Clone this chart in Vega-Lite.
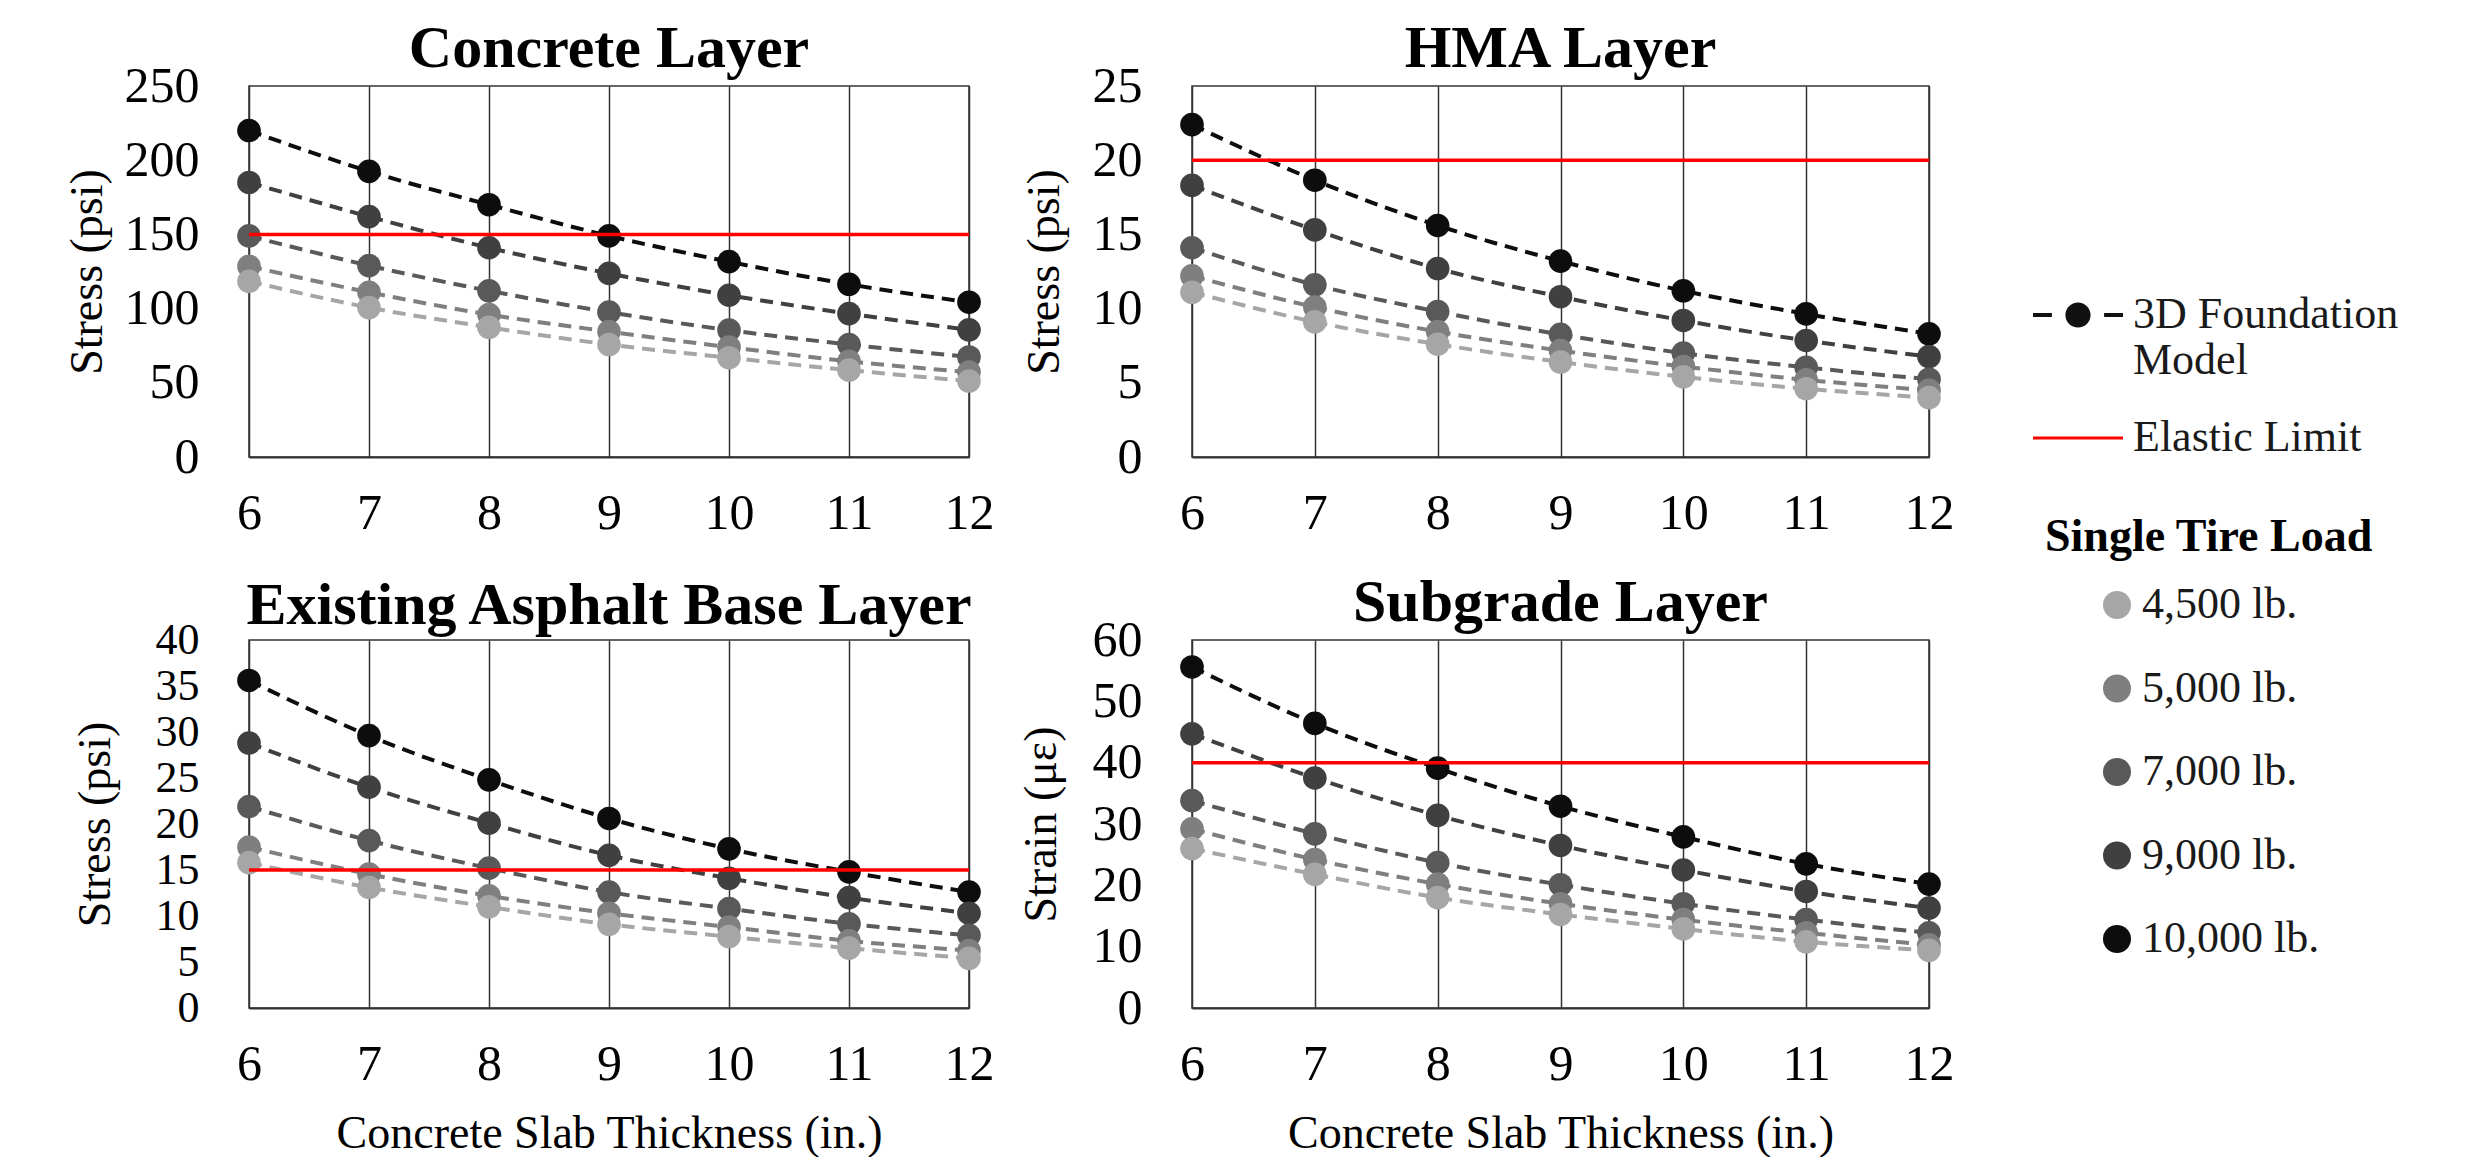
{
  "$schema": "https://vega.github.io/schema/vega-lite/v6.json",
  "padding": {"left": 63, "top": 18, "right": 0, "bottom": 0},
  "background": "white",
  "datasets": {
    "pts": [
      {"layer": "Concrete", "load": "10,000 lb.", "t": 6, "v": 220},
      {"layer": "Concrete", "load": "10,000 lb.", "t": 7, "v": 192.5},
      {"layer": "Concrete", "load": "10,000 lb.", "t": 8, "v": 170},
      {"layer": "Concrete", "load": "10,000 lb.", "t": 9, "v": 149},
      {"layer": "Concrete", "load": "10,000 lb.", "t": 10, "v": 131.6},
      {"layer": "Concrete", "load": "10,000 lb.", "t": 11, "v": 116.4},
      {"layer": "Concrete", "load": "10,000 lb.", "t": 12, "v": 104.3},
      {"layer": "Concrete", "load": "9,000 lb.", "t": 6, "v": 185},
      {"layer": "Concrete", "load": "9,000 lb.", "t": 7, "v": 162},
      {"layer": "Concrete", "load": "9,000 lb.", "t": 8, "v": 141},
      {"layer": "Concrete", "load": "9,000 lb.", "t": 9, "v": 123.7},
      {"layer": "Concrete", "load": "9,000 lb.", "t": 10, "v": 109},
      {"layer": "Concrete", "load": "9,000 lb.", "t": 11, "v": 96.6},
      {"layer": "Concrete", "load": "9,000 lb.", "t": 12, "v": 85.7},
      {"layer": "Concrete", "load": "7,000 lb.", "t": 6, "v": 149},
      {"layer": "Concrete", "load": "7,000 lb.", "t": 7, "v": 129},
      {"layer": "Concrete", "load": "7,000 lb.", "t": 8, "v": 112},
      {"layer": "Concrete", "load": "7,000 lb.", "t": 9, "v": 97.6},
      {"layer": "Concrete", "load": "7,000 lb.", "t": 10, "v": 85.5},
      {"layer": "Concrete", "load": "7,000 lb.", "t": 11, "v": 75.8},
      {"layer": "Concrete", "load": "7,000 lb.", "t": 12, "v": 67.4},
      {"layer": "Concrete", "load": "5,000 lb.", "t": 6, "v": 128.5},
      {"layer": "Concrete", "load": "5,000 lb.", "t": 7, "v": 111},
      {"layer": "Concrete", "load": "5,000 lb.", "t": 8, "v": 96},
      {"layer": "Concrete", "load": "5,000 lb.", "t": 9, "v": 84.5},
      {"layer": "Concrete", "load": "5,000 lb.", "t": 10, "v": 74},
      {"layer": "Concrete", "load": "5,000 lb.", "t": 11, "v": 64.5},
      {"layer": "Concrete", "load": "5,000 lb.", "t": 12, "v": 57.2},
      {"layer": "Concrete", "load": "4,500 lb.", "t": 6, "v": 118.4},
      {"layer": "Concrete", "load": "4,500 lb.", "t": 7, "v": 100.7},
      {"layer": "Concrete", "load": "4,500 lb.", "t": 8, "v": 87.4},
      {"layer": "Concrete", "load": "4,500 lb.", "t": 9, "v": 75.8},
      {"layer": "Concrete", "load": "4,500 lb.", "t": 10, "v": 66.9},
      {"layer": "Concrete", "load": "4,500 lb.", "t": 11, "v": 58.5},
      {"layer": "Concrete", "load": "4,500 lb.", "t": 12, "v": 51.2},
      {"layer": "HMA", "load": "10,000 lb.", "t": 6, "v": 22.4},
      {"layer": "HMA", "load": "10,000 lb.", "t": 7, "v": 18.65},
      {"layer": "HMA", "load": "10,000 lb.", "t": 8, "v": 15.6},
      {"layer": "HMA", "load": "10,000 lb.", "t": 9, "v": 13.2},
      {"layer": "HMA", "load": "10,000 lb.", "t": 10, "v": 11.2},
      {"layer": "HMA", "load": "10,000 lb.", "t": 11, "v": 9.64},
      {"layer": "HMA", "load": "10,000 lb.", "t": 12, "v": 8.3},
      {"layer": "HMA", "load": "9,000 lb.", "t": 6, "v": 18.3},
      {"layer": "HMA", "load": "9,000 lb.", "t": 7, "v": 15.3},
      {"layer": "HMA", "load": "9,000 lb.", "t": 8, "v": 12.7},
      {"layer": "HMA", "load": "9,000 lb.", "t": 9, "v": 10.8},
      {"layer": "HMA", "load": "9,000 lb.", "t": 10, "v": 9.2},
      {"layer": "HMA", "load": "9,000 lb.", "t": 11, "v": 7.85},
      {"layer": "HMA", "load": "9,000 lb.", "t": 12, "v": 6.76},
      {"layer": "HMA", "load": "7,000 lb.", "t": 6, "v": 14.1},
      {"layer": "HMA", "load": "7,000 lb.", "t": 7, "v": 11.6},
      {"layer": "HMA", "load": "7,000 lb.", "t": 8, "v": 9.8},
      {"layer": "HMA", "load": "7,000 lb.", "t": 9, "v": 8.26},
      {"layer": "HMA", "load": "7,000 lb.", "t": 10, "v": 7.0},
      {"layer": "HMA", "load": "7,000 lb.", "t": 11, "v": 6.04},
      {"layer": "HMA", "load": "7,000 lb.", "t": 12, "v": 5.24},
      {"layer": "HMA", "load": "5,000 lb.", "t": 6, "v": 12.2},
      {"layer": "HMA", "load": "5,000 lb.", "t": 7, "v": 10.1},
      {"layer": "HMA", "load": "5,000 lb.", "t": 8, "v": 8.45},
      {"layer": "HMA", "load": "5,000 lb.", "t": 9, "v": 7.17},
      {"layer": "HMA", "load": "5,000 lb.", "t": 10, "v": 6.1},
      {"layer": "HMA", "load": "5,000 lb.", "t": 11, "v": 5.2},
      {"layer": "HMA", "load": "5,000 lb.", "t": 12, "v": 4.5},
      {"layer": "HMA", "load": "4,500 lb.", "t": 6, "v": 11.1},
      {"layer": "HMA", "load": "4,500 lb.", "t": 7, "v": 9.1},
      {"layer": "HMA", "load": "4,500 lb.", "t": 8, "v": 7.6},
      {"layer": "HMA", "load": "4,500 lb.", "t": 9, "v": 6.4},
      {"layer": "HMA", "load": "4,500 lb.", "t": 10, "v": 5.4},
      {"layer": "HMA", "load": "4,500 lb.", "t": 11, "v": 4.6},
      {"layer": "HMA", "load": "4,500 lb.", "t": 12, "v": 4.0},
      {"layer": "Asphalt", "load": "10,000 lb.", "t": 6, "v": 35.6},
      {"layer": "Asphalt", "load": "10,000 lb.", "t": 7, "v": 29.6},
      {"layer": "Asphalt", "load": "10,000 lb.", "t": 8, "v": 24.8},
      {"layer": "Asphalt", "load": "10,000 lb.", "t": 9, "v": 20.6},
      {"layer": "Asphalt", "load": "10,000 lb.", "t": 10, "v": 17.3},
      {"layer": "Asphalt", "load": "10,000 lb.", "t": 11, "v": 14.8},
      {"layer": "Asphalt", "load": "10,000 lb.", "t": 12, "v": 12.6},
      {"layer": "Asphalt", "load": "9,000 lb.", "t": 6, "v": 28.8},
      {"layer": "Asphalt", "load": "9,000 lb.", "t": 7, "v": 24.0},
      {"layer": "Asphalt", "load": "9,000 lb.", "t": 8, "v": 20.1},
      {"layer": "Asphalt", "load": "9,000 lb.", "t": 9, "v": 16.6},
      {"layer": "Asphalt", "load": "9,000 lb.", "t": 10, "v": 14.1},
      {"layer": "Asphalt", "load": "9,000 lb.", "t": 11, "v": 12.0},
      {"layer": "Asphalt", "load": "9,000 lb.", "t": 12, "v": 10.3},
      {"layer": "Asphalt", "load": "7,000 lb.", "t": 6, "v": 21.9},
      {"layer": "Asphalt", "load": "7,000 lb.", "t": 7, "v": 18.2},
      {"layer": "Asphalt", "load": "7,000 lb.", "t": 8, "v": 15.2},
      {"layer": "Asphalt", "load": "7,000 lb.", "t": 9, "v": 12.6},
      {"layer": "Asphalt", "load": "7,000 lb.", "t": 10, "v": 10.8},
      {"layer": "Asphalt", "load": "7,000 lb.", "t": 11, "v": 9.15},
      {"layer": "Asphalt", "load": "7,000 lb.", "t": 12, "v": 7.9},
      {"layer": "Asphalt", "load": "5,000 lb.", "t": 6, "v": 17.5},
      {"layer": "Asphalt", "load": "5,000 lb.", "t": 7, "v": 14.55},
      {"layer": "Asphalt", "load": "5,000 lb.", "t": 8, "v": 12.2},
      {"layer": "Asphalt", "load": "5,000 lb.", "t": 9, "v": 10.3},
      {"layer": "Asphalt", "load": "5,000 lb.", "t": 10, "v": 8.8},
      {"layer": "Asphalt", "load": "5,000 lb.", "t": 11, "v": 7.3},
      {"layer": "Asphalt", "load": "5,000 lb.", "t": 12, "v": 6.25},
      {"layer": "Asphalt", "load": "4,500 lb.", "t": 6, "v": 15.8},
      {"layer": "Asphalt", "load": "4,500 lb.", "t": 7, "v": 13.1},
      {"layer": "Asphalt", "load": "4,500 lb.", "t": 8, "v": 11.0},
      {"layer": "Asphalt", "load": "4,500 lb.", "t": 9, "v": 9.1},
      {"layer": "Asphalt", "load": "4,500 lb.", "t": 10, "v": 7.75},
      {"layer": "Asphalt", "load": "4,500 lb.", "t": 11, "v": 6.5},
      {"layer": "Asphalt", "load": "4,500 lb.", "t": 12, "v": 5.4},
      {"layer": "Subgrade", "load": "10,000 lb.", "t": 6, "v": 55.6},
      {"layer": "Subgrade", "load": "10,000 lb.", "t": 7, "v": 46.4},
      {"layer": "Subgrade", "load": "10,000 lb.", "t": 8, "v": 39.1},
      {"layer": "Subgrade", "load": "10,000 lb.", "t": 9, "v": 32.9},
      {"layer": "Subgrade", "load": "10,000 lb.", "t": 10, "v": 27.9},
      {"layer": "Subgrade", "load": "10,000 lb.", "t": 11, "v": 23.5},
      {"layer": "Subgrade", "load": "10,000 lb.", "t": 12, "v": 20.2},
      {"layer": "Subgrade", "load": "9,000 lb.", "t": 6, "v": 44.7},
      {"layer": "Subgrade", "load": "9,000 lb.", "t": 7, "v": 37.5},
      {"layer": "Subgrade", "load": "9,000 lb.", "t": 8, "v": 31.4},
      {"layer": "Subgrade", "load": "9,000 lb.", "t": 9, "v": 26.5},
      {"layer": "Subgrade", "load": "9,000 lb.", "t": 10, "v": 22.5},
      {"layer": "Subgrade", "load": "9,000 lb.", "t": 11, "v": 19.0},
      {"layer": "Subgrade", "load": "9,000 lb.", "t": 12, "v": 16.3},
      {"layer": "Subgrade", "load": "7,000 lb.", "t": 6, "v": 33.8},
      {"layer": "Subgrade", "load": "7,000 lb.", "t": 7, "v": 28.4},
      {"layer": "Subgrade", "load": "7,000 lb.", "t": 8, "v": 23.7},
      {"layer": "Subgrade", "load": "7,000 lb.", "t": 9, "v": 20.1},
      {"layer": "Subgrade", "load": "7,000 lb.", "t": 10, "v": 17.0},
      {"layer": "Subgrade", "load": "7,000 lb.", "t": 11, "v": 14.4},
      {"layer": "Subgrade", "load": "7,000 lb.", "t": 12, "v": 12.25},
      {"layer": "Subgrade", "load": "5,000 lb.", "t": 6, "v": 29.2},
      {"layer": "Subgrade", "load": "5,000 lb.", "t": 7, "v": 24.2},
      {"layer": "Subgrade", "load": "5,000 lb.", "t": 8, "v": 20.2},
      {"layer": "Subgrade", "load": "5,000 lb.", "t": 9, "v": 17.0},
      {"layer": "Subgrade", "load": "5,000 lb.", "t": 10, "v": 14.4},
      {"layer": "Subgrade", "load": "5,000 lb.", "t": 11, "v": 12.25},
      {"layer": "Subgrade", "load": "5,000 lb.", "t": 12, "v": 10.3},
      {"layer": "Subgrade", "load": "4,500 lb.", "t": 6, "v": 26.0},
      {"layer": "Subgrade", "load": "4,500 lb.", "t": 7, "v": 21.8},
      {"layer": "Subgrade", "load": "4,500 lb.", "t": 8, "v": 18.0},
      {"layer": "Subgrade", "load": "4,500 lb.", "t": 9, "v": 15.25},
      {"layer": "Subgrade", "load": "4,500 lb.", "t": 10, "v": 12.9},
      {"layer": "Subgrade", "load": "4,500 lb.", "t": 11, "v": 10.8},
      {"layer": "Subgrade", "load": "4,500 lb.", "t": 12, "v": 9.4}
    ],
    "limits": [
      {"layer": "Concrete", "limit": 150},
      {"layer": "HMA", "limit": 20},
      {"layer": "Asphalt", "limit": 15},
      {"layer": "Subgrade", "limit": 40}
    ],
    "legendItems": [
      {"item": "3D Foundation Model"},
      {"item": "Elastic Limit"}
    ]
  },
  "columns": 2,
  "align": "each",
  "spacing": {"row": 33, "column": 22},
  "concat": [
    {
      "width": 720, "height": 371,
      "title": {"text": "Concrete Layer"},
      "layer": [
        {
          "data": {"name": "legendItems"},
          "transform": [{"filter": "false"}],
          "mark": {"type": "point", "filled": true},
          "encoding": {
            "shape": {"field": "item", "type": "nominal",
              "scale": {"domain": ["3D Foundation Model", "Elastic Limit"],
                "range": ["M-1,-0.045H-0.58V0.045H-1Z M0.58,-0.045H1V0.045H0.58Z M0.28,0A0.28,0.28,0,1,1,-0.28,0A0.28,0.28,0,1,1,0.28,0Z", "M-1,-0.033H1V0.033H-1Z"]},
              "legend": {"title": null, "orient": "none", "legendX": 1783, "legendY": 183, "symbolSize": 8100, "labelOffset": 9, "rowPadding": 9, "symbolOpacity": 1,
                "labelExpr": "datum.label == '3D Foundation Model' ? ['3D Foundation', 'Model'] : datum.label"}},
            "fill": {"field": "item", "type": "nominal",
              "scale": {"domain": ["3D Foundation Model", "Elastic Limit"], "range": ["#111111", "#ff0000"]},
              "legend": {"title": null, "orient": "none", "legendX": 1783, "legendY": 183, "symbolSize": 8100, "labelOffset": 9, "rowPadding": 9, "symbolOpacity": 1,
                "labelExpr": "datum.label == '3D Foundation Model' ? ['3D Foundation', 'Model'] : datum.label"}}
          }
        },
        {
          "data": {"name": "pts"},
          "transform": [{"filter": "datum.layer == 'Concrete'"}],
          "mark": {"type": "line", "strokeDash": [13, 8], "strokeWidth": 4, "interpolate": "monotone"},
          "encoding": {
            "x": {"field": "t", "type": "quantitative", "scale": {"domain": [6, 12], "nice": false, "zero": false}, "axis": {"values": [6, 7, 8, 9, 10, 11, 12], "format": "d", "title": null}},
            "y": {"field": "v", "type": "quantitative", "scale": {"domain": [0, 250], "nice": false}, "axis": {"values": [0, 50, 100, 150, 200, 250], "title": "Stress (psi)", "minExtent": 130, "maxExtent": 130}},
            "stroke": {"field": "load", "type": "nominal",
              "scale": {"domain": ["10,000 lb.", "9,000 lb.", "7,000 lb.", "5,000 lb.", "4,500 lb."], "range": ["#0d0d0d", "#404040", "#595959", "#7f7f7f", "#a6a6a6"]},
              "legend": null}
          }
        },
        {
          "data": {"name": "pts"},
          "transform": [{"filter": "datum.layer == 'Concrete'"}],
          "mark": {"type": "point", "filled": true, "size": 560, "opacity": 1},
          "encoding": {
            "x": {"field": "t", "type": "quantitative"},
            "y": {"field": "v", "type": "quantitative"},
            "color": {"field": "load", "type": "nominal",
              "scale": {"domain": ["4,500 lb.", "5,000 lb.", "7,000 lb.", "9,000 lb.", "10,000 lb."], "range": ["#a6a6a6", "#7f7f7f", "#595959", "#404040", "#0d0d0d"]},
              "legend": {"title": "Single Tire Load", "orient": "none", "legendX": 1796, "legendY": 429, "symbolType": "circle", "symbolSize": 784, "symbolOffset": 50, "labelOffset": 3, "rowPadding": 39.5, "titlePadding": 22, "symbolOpacity": 1}}
          }
        },
        {
          "data": {"name": "limits"},
          "transform": [{"filter": "datum.layer == 'Concrete'"}],
          "mark": {"type": "rule", "color": "#ff0000", "strokeWidth": 3.5},
          "encoding": {"y": {"field": "limit", "type": "quantitative"}}
        }
      ]
    },
    {
      "width": 737, "height": 371,
      "title": {"text": "HMA Layer"},
      "layer": [
        {
          "data": {"name": "pts"},
          "transform": [{"filter": "datum.layer == 'HMA'"}],
          "mark": {"type": "line", "strokeDash": [13, 8], "strokeWidth": 4, "interpolate": "monotone"},
          "encoding": {
            "x": {"field": "t", "type": "quantitative", "scale": {"domain": [6, 12], "nice": false, "zero": false}, "axis": {"values": [6, 7, 8, 9, 10, 11, 12], "format": "d", "title": null}},
            "y": {"field": "v", "type": "quantitative", "scale": {"domain": [0, 25], "nice": false}, "axis": {"values": [0, 5, 10, 15, 20, 25], "title": "Stress (psi)", "minExtent": 116, "maxExtent": 116}},
            "stroke": {"field": "load", "type": "nominal", "legend": null}
          }
        },
        {
          "data": {"name": "pts"},
          "transform": [{"filter": "datum.layer == 'HMA'"}],
          "mark": {"type": "point", "filled": true, "size": 560, "opacity": 1},
          "encoding": {
            "x": {"field": "t", "type": "quantitative"},
            "y": {"field": "v", "type": "quantitative"},
            "color": {"field": "load", "type": "nominal"}
          }
        },
        {
          "data": {"name": "limits"},
          "transform": [{"filter": "datum.layer == 'HMA'"}],
          "mark": {"type": "rule", "color": "#ff0000", "strokeWidth": 3.5},
          "encoding": {"y": {"field": "limit", "type": "quantitative"}}
        }
      ]
    },
    {
      "width": 720, "height": 368,
      "title": {"text": "Existing Asphalt Base Layer"},
      "layer": [
        {
          "data": {"name": "pts"},
          "transform": [{"filter": "datum.layer == 'Asphalt'"}],
          "mark": {"type": "line", "strokeDash": [13, 8], "strokeWidth": 4, "interpolate": "monotone"},
          "encoding": {
            "x": {"field": "t", "type": "quantitative", "scale": {"domain": [6, 12], "nice": false, "zero": false}, "axis": {"values": [6, 7, 8, 9, 10, 11, 12], "format": "d", "title": "Concrete Slab Thickness (in.)"}},
            "y": {"field": "v", "type": "quantitative", "scale": {"domain": [0, 40], "nice": false}, "axis": {"values": [0, 5, 10, 15, 20, 25, 30, 35, 40], "title": "Stress (psi)", "labelFontSize": 44, "minExtent": 122, "maxExtent": 122}},
            "stroke": {"field": "load", "type": "nominal", "legend": null}
          }
        },
        {
          "data": {"name": "pts"},
          "transform": [{"filter": "datum.layer == 'Asphalt'"}],
          "mark": {"type": "point", "filled": true, "size": 560, "opacity": 1},
          "encoding": {
            "x": {"field": "t", "type": "quantitative"},
            "y": {"field": "v", "type": "quantitative"},
            "color": {"field": "load", "type": "nominal"}
          }
        },
        {
          "data": {"name": "limits"},
          "transform": [{"filter": "datum.layer == 'Asphalt'"}],
          "mark": {"type": "rule", "color": "#ff0000", "strokeWidth": 3.5},
          "encoding": {"y": {"field": "limit", "type": "quantitative"}}
        }
      ]
    },
    {
      "width": 737, "height": 368,
      "title": {"text": "Subgrade Layer"},
      "layer": [
        {
          "data": {"name": "pts"},
          "transform": [{"filter": "datum.layer == 'Subgrade'"}],
          "mark": {"type": "line", "strokeDash": [13, 8], "strokeWidth": 4, "interpolate": "monotone"},
          "encoding": {
            "x": {"field": "t", "type": "quantitative", "scale": {"domain": [6, 12], "nice": false, "zero": false}, "axis": {"values": [6, 7, 8, 9, 10, 11, 12], "format": "d", "title": "Concrete Slab Thickness (in.)"}},
            "y": {"field": "v", "type": "quantitative", "scale": {"domain": [0, 60], "nice": false}, "axis": {"values": [0, 10, 20, 30, 40, 50, 60], "title": "Strain (με)", "minExtent": 119, "maxExtent": 119}},
            "stroke": {"field": "load", "type": "nominal", "legend": null}
          }
        },
        {
          "data": {"name": "pts"},
          "transform": [{"filter": "datum.layer == 'Subgrade'"}],
          "mark": {"type": "point", "filled": true, "size": 560, "opacity": 1},
          "encoding": {
            "x": {"field": "t", "type": "quantitative"},
            "y": {"field": "v", "type": "quantitative"},
            "color": {"field": "load", "type": "nominal"}
          }
        },
        {
          "data": {"name": "limits"},
          "transform": [{"filter": "datum.layer == 'Subgrade'"}],
          "mark": {"type": "rule", "color": "#ff0000", "strokeWidth": 3.5},
          "encoding": {"y": {"field": "limit", "type": "quantitative"}}
        }
      ]
    }
  ],
  "config": {
    "font": "Liberation Serif",
    "view": {"stroke": "#333333", "strokeWidth": 1.5},
    "axis": {
      "labelFont": "Liberation Serif", "labelFontSize": 50, "labelColor": "#000000",
      "titleFont": "Liberation Serif", "titleFontSize": 46, "titleFontWeight": "normal", "titleColor": "#000000",
      "ticks": false, "tickSize": 0, "labelOverlap": false, "labelFlush": false
    },
    "axisX": {"grid": true, "gridColor": "#333333", "gridWidth": 1.5, "gridOpacity": 1, "domainColor": "#333333", "domainWidth": 2, "labelPadding": 31, "titlePadding": 22},
    "axisY": {"grid": false, "domain": false, "labelPadding": 50, "titlePadding": 8},
    "title": {"font": "Liberation Serif", "fontSize": 60, "fontWeight": "bold", "color": "#000000", "offset": -19, "baseline": "alphabetic"},
    "legend": {
      "labelFont": "Liberation Serif", "labelFontSize": 44, "labelColor": "#1a1a1a", "labelLimit": 800,
      "titleFont": "Liberation Serif", "titleFontSize": 46, "titleFontWeight": "bold", "titleColor": "#000000", "titleLimit": 800,
      "padding": 0
    }
  }
}
